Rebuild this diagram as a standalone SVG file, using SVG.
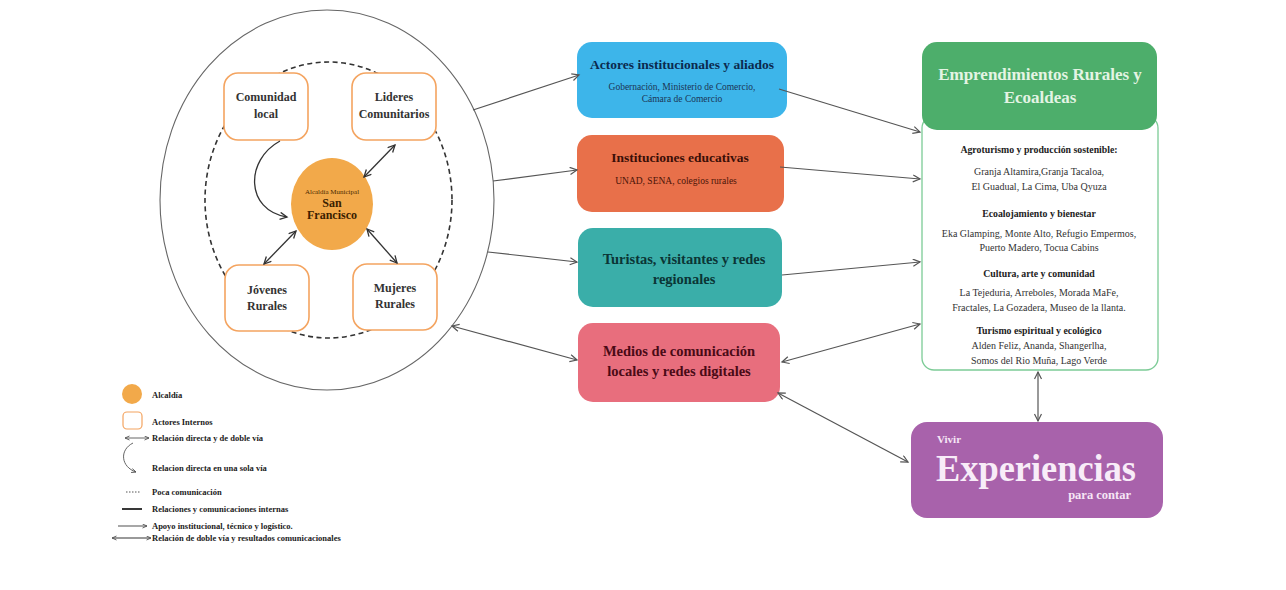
<svg xmlns="http://www.w3.org/2000/svg" width="1286" height="590" viewBox="0 0 1286 590">
<style>
text{font-family:"Liberation Serif","Times New Roman",serif}
.b{font-weight:bold}
.act{fill:#fff;stroke:#F4A460;stroke-width:1.6}
.node-t{font-size:12px;font-weight:bold;fill:#333;text-anchor:middle}
.lg{font-size:8.5px;font-weight:bold;fill:#222}
.c{stroke:#555;stroke-width:1.2;fill:none}
.ci{stroke:#333;stroke-width:1.3;fill:none}
.rt{font-size:10px;fill:#333;text-anchor:middle}
.rh{font-size:9.8px;font-weight:bold;fill:#222;text-anchor:middle}
</style>
<defs>
<marker id="a" markerWidth="10" markerHeight="10" refX="8" refY="4" orient="auto-start-reverse" markerUnits="userSpaceOnUse">
<path d="M1,0.5 L8,4 L1,7.5" fill="none" stroke="#555" stroke-width="1.2"/>
</marker>
<marker id="ad" markerWidth="10" markerHeight="10" refX="8" refY="4" orient="auto-start-reverse" markerUnits="userSpaceOnUse">
<path d="M1,0.5 L8,4 L1,7.5" fill="none" stroke="#333" stroke-width="1.3"/>
</marker>
<marker id="as" markerWidth="6" markerHeight="6" refX="5" refY="2.5" orient="auto-start-reverse" markerUnits="userSpaceOnUse">
<path d="M0.5,0.5 L5,2.5 L0.5,4.5" fill="none" stroke="#555" stroke-width="0.9"/>
</marker>
</defs>
<rect width="1286" height="590" fill="#fff"/>

<g id="outer-circle">
<ellipse cx="327" cy="200" rx="167" ry="190" fill="none" stroke="#666" stroke-width="1.1"/>
<ellipse cx="328.5" cy="200" rx="123.5" ry="138" fill="none" stroke="#333" stroke-width="1.6" stroke-dasharray="5,3.5"/>
</g>

<g id="node-comunidad">
<rect class="act" x="224" y="73" width="84" height="67" rx="14"/>
<text class="node-t" x="266" y="101">Comunidad</text>
<text class="node-t" x="266" y="118">local</text>
</g>
<g id="node-lideres">
<rect class="act" x="352" y="73" width="84" height="67" rx="14"/>
<text class="node-t" x="394" y="101">Lideres</text>
<text class="node-t" x="394" y="118">Comunitarios</text>
</g>
<g id="node-jovenes">
<rect class="act" x="225" y="265" width="84" height="66" rx="14"/>
<text class="node-t" x="267" y="294">Jóvenes</text>
<text class="node-t" x="267" y="310">Rurales</text>
</g>
<g id="node-mujeres">
<rect class="act" x="353" y="264" width="84" height="66" rx="14"/>
<text class="node-t" x="395" y="292">Mujeres</text>
<text class="node-t" x="395" y="308">Rurales</text>
</g>
<g id="node-alcaldia">
<ellipse cx="332" cy="204" rx="41" ry="46" fill="#F2A94A"/>
<text x="332" y="194" font-size="7px" fill="#4a2a00" text-anchor="middle">Alcaldía Municipal</text>
<text x="332" y="207" font-size="12px" class="b" fill="#3a2000" text-anchor="middle">San</text>
<text x="332" y="219" font-size="12px" class="b" fill="#3a2000" text-anchor="middle">Francisco</text>
</g>

<g id="node-actores">
<rect x="577" y="42" width="210" height="76" rx="15" fill="#3DB5EA"/>
<text x="682" y="69" font-size="13.5px" class="b" fill="#0b2a4e" text-anchor="middle">Actores institucionales y aliados</text>
<text x="682" y="90" font-size="9.5px" fill="#1c3556" text-anchor="middle">Gobernación, Ministerio de Comercio,</text>
<text x="682" y="102" font-size="9.5px" fill="#1c3556" text-anchor="middle">Cámara de Comercio</text>
</g>
<g id="node-instituciones">
<rect x="577" y="135" width="207" height="77" rx="15" fill="#E8704A"/>
<text x="680" y="162" font-size="13.5px" class="b" fill="#3a0f08" text-anchor="middle">Instituciones educativas</text>
<text x="676" y="184" font-size="9.5px" fill="#4a1408" text-anchor="middle">UNAD, SENA, colegios rurales</text>
</g>
<g id="node-turistas">
<rect x="578" y="228" width="204" height="79" rx="15" fill="#3AAEA9"/>
<text x="684" y="264" font-size="14.5px" class="b" fill="#0b3535" text-anchor="middle">Turistas, visitantes y redes</text>
<text x="684" y="284" font-size="14.5px" class="b" fill="#0b3535" text-anchor="middle">regionales</text>
</g>
<g id="node-medios">
<rect x="578" y="323" width="202" height="79" rx="15" fill="#E86E7D"/>
<text x="679" y="356" font-size="14.5px" class="b" fill="#4a0a16" text-anchor="middle">Medios de comunicación</text>
<text x="679" y="376" font-size="14.5px" class="b" fill="#4a0a16" text-anchor="middle">locales y redes digitales</text>
</g>

<g id="node-emprendimientos">
<rect x="922" y="116" width="236" height="254" rx="12" fill="#fff" stroke="#7CCB96" stroke-width="1.3"/>
<rect x="922" y="42" width="235" height="88" rx="15" fill="#4DAE6B"/>
<text x="1040" y="80" font-size="17px" class="b" fill="#E4F4E4" text-anchor="middle">Emprendimientos Rurales y</text>
<text x="1040" y="103" font-size="17px" class="b" fill="#E4F4E4" text-anchor="middle">Ecoaldeas</text>
<text class="rh" x="1039" y="153">Agroturismo y producción sostenible:</text>
<text class="rt" x="1039" y="175">Granja Altamira,Granja Tacaloa,</text>
<text class="rt" x="1039" y="190">El Guadual, La Cima, Uba Qyuza</text>
<text class="rh" x="1039" y="217">Ecoalojamiento y bienestar</text>
<text class="rt" x="1039" y="237">Eka Glamping, Monte Alto, Refugio Empermos,</text>
<text class="rt" x="1039" y="251">Puerto Madero, Tocua Cabins</text>
<text class="rh" x="1039" y="277">Cultura, arte y comunidad</text>
<text class="rt" x="1039" y="296">La Tejeduria, Arreboles, Morada MaFe,</text>
<text class="rt" x="1039" y="311">Fractales, La Gozadera, Museo de la llanta.</text>
<text class="rh" x="1039" y="334">Turismo espiritual y ecológico</text>
<text class="rt" x="1039" y="349">Alden Feliz, Ananda, Shangerlha,</text>
<text class="rt" x="1039" y="364">Somos del Rio Muña, Lago Verde</text>
</g>

<g id="node-experiencias">
<rect x="911" y="422" width="252" height="96" rx="16" fill="#A862AB"/>
<text x="937" y="443" font-size="11px" class="b" fill="#F6E6F6">Vivir</text>
<text x="936" y="481" font-size="38px" class="b" fill="#F8ECF8" textLength="200" lengthAdjust="spacingAndGlyphs">Experiencias</text>
<text x="1131" y="499" font-size="12.5px" class="b" fill="#F6E6F6" text-anchor="end">para contar</text>
</g>

<g id="connectors">
<path class="ci" d="M280,141 C245,160 245,210 287,217" marker-end="url(#ad)"/>
<path class="ci" d="M395,145 L364,177" marker-start="url(#ad)" marker-end="url(#ad)"/>
<path class="ci" d="M264,264 L296,231" marker-start="url(#ad)" marker-end="url(#ad)"/>
<path class="ci" d="M367,229 L397,263" marker-start="url(#ad)" marker-end="url(#ad)"/>
<path class="c" d="M473,110 L579,75" marker-end="url(#a)"/>
<path class="c" d="M493,181 L577,170" marker-end="url(#a)"/>
<path class="c" d="M488,252 L577,262" marker-end="url(#a)"/>
<path class="c" d="M452,326 L577,360" marker-start="url(#a)" marker-end="url(#a)"/>
<path class="c" d="M779,89 L920,132" marker-end="url(#a)"/>
<path class="c" d="M780,167 L920,179" marker-end="url(#a)"/>
<path class="c" d="M782,275 L920,262" marker-end="url(#a)"/>
<path class="c" d="M782,362 L920,324" marker-start="url(#a)" marker-end="url(#a)"/>
<path class="c" d="M778,393 L908,462" marker-start="url(#a)" marker-end="url(#a)"/>
<path class="c" d="M1038,372 L1038,421" marker-start="url(#a)" marker-end="url(#a)"/>
</g>

<g id="legend">
<circle cx="132" cy="394" r="10" fill="#F2A94A"/>
<text class="lg" x="152" y="398">Alcaldía</text>
<rect x="123" y="412" width="19" height="17" rx="4" fill="#fff" stroke="#F4A460" stroke-width="1.2"/>
<text class="lg" x="152" y="425">Actores Internos</text>
<path d="M125,438 L149,438" stroke="#555" stroke-width="0.9" fill="none" marker-start="url(#as)" marker-end="url(#as)"/>
<text class="lg" x="152" y="441">Relación directa y de doble vía</text>
<path d="M133,443 C119,450 121,467 136,472" stroke="#555" stroke-width="0.9" fill="none" marker-end="url(#as)"/>
<text class="lg" x="152" y="471">Relacion directa en una sola vía</text>
<path d="M126,492 L141,492" stroke="#555" stroke-width="1" stroke-dasharray="1.5,1.5"/>
<text class="lg" x="152" y="495">Poca comunicación</text>
<path d="M122,509 L142,509" stroke="#222" stroke-width="1.8"/>
<text class="lg" x="152" y="512">Relaciones y comunicaciones internas</text>
<path d="M118,526 L147,526" stroke="#777" stroke-width="1.3" fill="none" marker-end="url(#as)"/>
<text class="lg" x="152" y="529">Apoyo institucional, técnico y logístico.</text>
<path d="M112,538 L151,538" stroke="#777" stroke-width="1.3" fill="none" marker-start="url(#as)" marker-end="url(#as)"/>
<text class="lg" x="152" y="541">Relación de doble vía y resultados comunicacionales</text>
</g>
</svg>
